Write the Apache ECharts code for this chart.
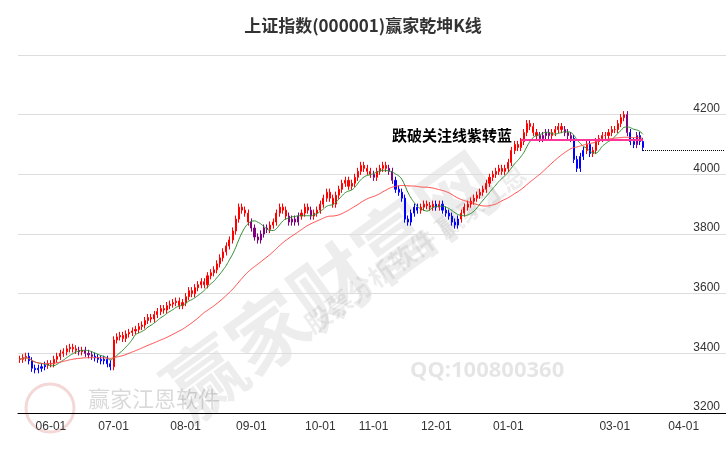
<!DOCTYPE html>
<html>
<head>
<meta charset="utf-8">
<script src="https://cdn.jsdelivr.net/npm/echarts@6/dist/echarts.min.js"></script>
<style>html,body{margin:0;padding:0;background:#fff}#c{width:726px;height:450px}</style>
</head>
<body>
<div id="c"></div>
<script>
// daily closes, one list per month
var closesMay = [3380,3385,3390,3375,3350,3345,3350,3355,3360,3365];
var closesJun = [3365,3380,3390,3400,3405,3415,3420,3415,3410,3405,3410,3400,3395,3390,3385,3380,3375,3380,3365,3355];
var closesJul = [3445,3455,3460,3450,3465,3470,3475,3480,3490,3495,3510,3520,3515,3530,3540,3550,3545,3560,3565,3570,3575,3560,3570];
var closesAug = [3590,3610,3600,3620,3630,3640,3630,3660,3670,3680,3700,3720,3740,3760,3780,3810,3850,3890,3880,3870,3840];
var closesSep = [3820,3790,3780,3800,3820,3815,3830,3840,3870,3890,3880,3860,3840,3850,3840,3860,3870,3890,3880,3860,3870,3880];
var closesOct = [3900,3920,3940,3920,3900,3930,3950,3970,3980,3960,3970,3990,4010,4030,4020,4010,4000];
var closesNov = [3990,4010,4020,4030,4020,4010,3980,3950,3940,3920,3850,3840,3870,3890,3880,3890,3900,3895,3890,3900];
var closesDec = [3890,3900,3880,3870,3860,3840,3830,3850,3870,3890,3900,3910,3920,3930,3940,3950,3970,3990,4000,4010,4020,4010,4020];
var closesJan = [4040,4080,4100,4090,4110,4140,4170,4160,4140,4130,4120,4130,4140,4130,4140,4150,4160,4150,4140,4130];
var closesFeb = [4120,4050,4020,4060,4080,4100,4070,4080,4110,4120,4130,4130,4140,4150];
var closesMar = [4150,4170,4190,4200,4140,4110,4100,4130,4110,4090];

var focusLine = 4117;   // 关注线
var lastLine = 4080;    // dotted level at the right
var yTicks = [3200, 3400, 3600, 3800, 4000, 4200];

var closes = [].concat(closesMay, closesJun, closesJul, closesAug, closesSep, closesOct,
  closesNov, closesDec, closesJan, closesFeb, closesMar);

// trading-day calendar (weekdays minus exchange holidays)
var holidays = ['2025-06-02','2025-10-01','2025-10-02','2025-10-03','2025-10-06','2025-10-07','2025-10-08',
  '2026-01-01','2026-01-02','2026-02-16','2026-02-17','2026-02-18','2026-02-19','2026-02-20','2026-02-23','2026-04-06'];
function pad(n) { return (n < 10 ? '0' : '') + n; }
var dates = [];
var d = new Date(2025, 4, 19);
while (dates.length < closes.length + 26) {
  var s = d.getFullYear() + '-' + pad(d.getMonth() + 1) + '-' + pad(d.getDate());
  if (d.getDay() > 0 && d.getDay() < 6 && holidays.indexOf(s) < 0) dates.push(s);
  d.setDate(d.getDate() + 1);
}

function ma(n) {
  return closes.map(function (c, i) {
    var from = Math.max(0, i - n + 1), sum = 0;
    for (var k = from; k <= i; k++) sum += closes[k];
    return +(sum / (i - from + 1)).toFixed(1);
  });
}
var maFast = ma(8), maSlow = ma(30);

var candles = closes.map(function (c, i) {
  var o = i ? closes[i - 1] : c;
  var col = c >= maFast[i] ? '#ff0000' : (c >= maSlow[i] ? '#800080' : '#0000ff');
  return {
    value: [o, c, Math.min(o, c) - 12, Math.max(o, c) + 12],
    itemStyle: { color: col, color0: col, borderColor: col, borderColor0: col }
  };
});

function monthStart(i) {
  if (i === 0) return false;
  var m = dates[i].slice(5, 7);
  return m !== dates[i - 1].slice(5, 7) && m !== '02';
}

var chart = echarts.init(document.getElementById('c'));
chart.setOption({
  animation: false,
  title: { text: '上证指数(000001)赢家乾坤K线', left: 'center', top: 12,
    textStyle: { fontSize: 17, fontWeight: 'bold', color: '#333', fontFamily: 'Noto Sans CJK SC' } },
  grid: { left: 18, right: 0, top: 55, bottom: 37 },
  graphic: [
    { type: 'text', left: 150, top: 140, rotation: Math.PI / 5, silent: true,
      style: { text: '赢家财富网', font: 'bold 78px "Noto Sans CJK SC"', fill: 'rgba(0,0,0,0.07)' } },
    { type: 'text', left: 300, top: 160, rotation: Math.PI / 5, silent: true,
      style: { text: '股票分析软件 赢家江恩', font: 'bold 26px "Noto Sans CJK SC"', fill: 'rgba(0,0,0,0.07)' } },
    { type: 'text', left: 410, top: 360, silent: true,
      style: { text: 'QQ:100800360', font: 'bold 22px "Noto Sans"', fill: 'rgba(0,0,0,0.1)' } },
    { type: 'text', left: 88, top: 388, silent: true,
      style: { text: '赢家江恩软件', font: '22px "Noto Sans CJK SC"', fill: 'rgba(0,0,0,0.15)' } },
    { type: 'circle', shape: { cx: 50, cy: 408, r: 24 }, silent: true,
      style: { fill: 'none', stroke: 'rgba(200,60,60,0.2)', lineWidth: 3 } },
    { type: 'text', left: 392, top: 128, z: 100,
      style: { text: '跌破关注线紫转蓝', font: 'bold 15px "Noto Sans CJK SC"', fill: '#000' } }
  ],
  xAxis: {
    type: 'category', data: dates, boundaryGap: true,
    axisLine: { lineStyle: { color: '#000' } },
    axisTick: { interval: function (i) { return monthStart(i); }, length: 5, lineStyle: { color: '#000' } },
    axisLabel: { interval: function (i) { return monthStart(i); }, color: '#333', fontSize: 12,
      formatter: function (v) { return v.slice(5, 7) + '-01'; } },
    splitLine: { show: false }
  },
  yAxis: {
    type: 'value', position: 'right', min: 3200, max: 4400, interval: 200,
    axisLine: { show: false }, axisTick: { show: false },
    axisLabel: { inside: true, showMaxLabel: false, color: '#333', fontSize: 12, verticalAlign: 'bottom', margin: 6,
      formatter: function (v) { return yTicks.indexOf(v) >= 0 ? v : ''; } },
    splitLine: { lineStyle: { color: '#ddd' } }
  },
  series: [
    { type: 'candlestick', data: candles, barMaxWidth: 3,
      markLine: { symbol: 'none', silent: true, label: { show: false },
        data: [
          [{ coord: [dates[160], focusLine], lineStyle: { color: '#ff3399', width: 2, type: 'solid' } },
           { coord: [dates[closes.length - 1], focusLine] }],
          [{ coord: [dates[closes.length - 1], lastLine], lineStyle: { color: '#000', width: 1, type: 'dotted' } },
           { coord: [dates[dates.length - 1], lastLine] }]
        ] } },
    { type: 'line', data: maFast, showSymbol: false, smooth: true, lineStyle: { color: '#2a8a2a', width: 1 } },
    { type: 'line', data: maSlow, showSymbol: false, smooth: true, lineStyle: { color: '#ff4040', width: 1 } }
  ]
});
</script>
</body>
</html>
